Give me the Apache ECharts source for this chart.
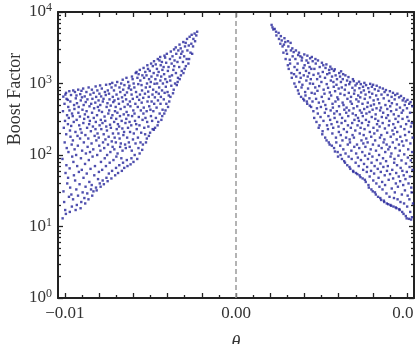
<!DOCTYPE html>
<html>
<head>
<meta charset="utf-8">
<script src="https://cdn.jsdelivr.net/npm/echarts@6.0.0/dist/echarts.min.js"></script>
<style>
  html, body { margin: 0; padding: 0; background: #fff; }
  #chart { width: 415px; height: 344px; }
</style>
</head>
<body>
<div id="chart"></div>
<script>
// theta (rad) vs boost factor
var leftPoints = [
  [-0.01013,13],[-0.01008,31],[-0.01014,88],[-0.01006,240],[-0.01011,410],[-0.01009,655],
  [-0.00998,17],[-0.01004,22],[-0.00996,56],[-0.01001,150],[-0.00999,300],[-0.01002,520],[-0.00997,700],
  [-0.00994,15],[-0.00986,40],[-0.00991,72],[-0.00989,125],[-0.00992,195],[-0.00987,360],[-0.00990,610],[-0.00993,740],
  [-0.00976,26],[-0.00981,48],[-0.00979,110],[-0.00982,270],[-0.00977,330],[-0.00980,470],[-0.00983,590],
  [-0.00971,16],[-0.00969,35],[-0.00972,65],[-0.00967,180],[-0.00970,220],[-0.00973,420],[-0.00968,560],[-0.00974,780],
  [-0.00959,19],[-0.00962,28],[-0.00957,95],[-0.00960,140],[-0.00963,255],[-0.00958,380],[-0.00964,690],
  [-0.00952,24],[-0.00947,52],[-0.00950,80],[-0.00953,160],[-0.00948,290],[-0.00954,350],[-0.00946,500],[-0.00951,800],
  [-0.00937,17],[-0.00940,44],[-0.00943,120],[-0.00938,210],[-0.00944,440],[-0.00936,620],[-0.00941,760],
  [-0.00930,20],[-0.00933,33],[-0.00928,70],[-0.00934,100],[-0.00926,185],[-0.00931,310],[-0.00929,530],[-0.00932,680],
  [-0.00923,27],[-0.00918,58],[-0.00924,135],[-0.00916,260],[-0.00921,390],[-0.00919,470],[-0.00922,820],
  [-0.00908,18],[-0.00914,39],[-0.00906,90],[-0.00911,170],[-0.00909,230],[-0.00912,345],[-0.00907,580],[-0.00910,710],
  [-0.00904,22],[-0.00896,30],[-0.00901,62],[-0.00899,115],[-0.00902,205],[-0.00897,430],[-0.00900,640],[-0.00903,790],
  [-0.00886,25],[-0.00891,48],[-0.00889,150],[-0.00892,280],[-0.00887,320],[-0.00890,500],[-0.00893,850],
  [-0.00881,21],[-0.00879,36],[-0.00882,75],[-0.00877,105],[-0.00880,190],[-0.00883,370],[-0.00878,550],[-0.00884,660],
  [-0.00869,29],[-0.00872,55],[-0.00867,130],[-0.00870,240],[-0.00873,410],[-0.00868,600],[-0.00874,760],
  [-0.00862,24],[-0.00857,42],[-0.00860,85],[-0.00863,170],[-0.00858,270],[-0.00864,340],[-0.00856,480],[-0.00861,880],
  [-0.00847,33],[-0.00850,64],[-0.00853,110],[-0.00848,215],[-0.00854,300],[-0.00846,520],[-0.00851,700],
  [-0.00840,27],[-0.00843,38],[-0.00838,95],[-0.00844,145],[-0.00836,250],[-0.00841,390],[-0.00839,610],[-0.00842,820],
  [-0.00833,31],[-0.00828,52],[-0.00834,120],[-0.00826,185],[-0.00831,330],[-0.00829,450],[-0.00832,740],
  [-0.00818,35],[-0.00824,70],[-0.00816,160],[-0.00821,230],[-0.00819,290],[-0.00822,540],[-0.00817,650],[-0.00820,910],
  [-0.00814,32],[-0.00806,46],[-0.00811,100],[-0.00809,200],[-0.00812,360],[-0.00807,470],[-0.00810,800],
  [-0.00796,40],[-0.00801,58],[-0.00799,135],[-0.00802,175],[-0.00797,260],[-0.00800,420],[-0.00803,580],[-0.00798,720],
  [-0.00791,36],[-0.00789,80],[-0.00792,115],[-0.00787,230],[-0.00790,310],[-0.00793,500],[-0.00788,660],[-0.00794,940],
  [-0.00779,44],[-0.00782,62],[-0.00777,150],[-0.00780,280],[-0.00783,400],[-0.00778,560],[-0.00784,850],
  [-0.00772,39],[-0.00767,90],[-0.00770,125],[-0.00773,195],[-0.00768,345],[-0.00774,610],[-0.00766,760],
  [-0.00757,48],[-0.00760,70],[-0.00763,165],[-0.00758,250],[-0.00764,300],[-0.00756,470],[-0.00761,690],[-0.00759,960],
  [-0.00750,43],[-0.00753,100],[-0.00748,140],[-0.00754,220],[-0.00746,380],[-0.00751,530],[-0.00749,800],
  [-0.00743,55],[-0.00738,78],[-0.00744,180],[-0.00736,265],[-0.00741,420],[-0.00739,600],[-0.00742,720],[-0.00737,980],
  [-0.00728,47],[-0.00734,110],[-0.00726,155],[-0.00731,240],[-0.00729,330],[-0.00732,490],[-0.00727,880],
  [-0.00724,60],[-0.00716,85],[-0.00721,130],[-0.00719,200],[-0.00722,360],[-0.00717,550],[-0.00720,650],[-0.00723,1020],
  [-0.00706,52],[-0.00711,120],[-0.00709,175],[-0.00712,290],[-0.00707,410],[-0.00710,580],[-0.00713,800],
  [-0.00701,66],[-0.00699,95],[-0.00702,150],[-0.00697,230],[-0.00700,320],[-0.00703,470],[-0.00698,700],[-0.00704,940],
  [-0.00689,56],[-0.00692,105],[-0.00687,200],[-0.00690,270],[-0.00693,390],[-0.00688,610],[-0.00694,1050],
  [-0.00682,72],[-0.00677,130],[-0.00680,170],[-0.00683,250],[-0.00678,350],[-0.00684,520],[-0.00676,760],[-0.00681,880],
  [-0.00667,60],[-0.00670,90],[-0.00673,145],[-0.00668,300],[-0.00674,440],[-0.00666,640],[-0.00671,1000],
  [-0.00660,78],[-0.00663,115],[-0.00658,190],[-0.00664,235],[-0.00656,370],[-0.00661,560],[-0.00659,820],[-0.00662,1130],
  [-0.00653,66],[-0.00648,140],[-0.00654,210],[-0.00646,280],[-0.00651,470],[-0.00649,690],[-0.00652,950],
  [-0.00638,85],[-0.00644,125],[-0.00636,175],[-0.00641,320],[-0.00639,400],[-0.00642,600],[-0.00637,750],[-0.00640,1200],
  [-0.00634,70],[-0.00626,150],[-0.00631,240],[-0.00629,360],[-0.00632,510],[-0.00627,860],[-0.00630,1050],
  [-0.00616,74],[-0.00621,130],[-0.00619,210],[-0.00622,290],[-0.00617,480],[-0.00620,560],[-0.00623,930],
  [-0.00611,90],[-0.00609,115],[-0.00612,260],[-0.00607,350],[-0.00610,700],[-0.00613,820],[-0.00608,1250],
  [-0.00599,80],[-0.00602,165],[-0.00597,200],[-0.00600,420],[-0.00603,610],[-0.00598,1000],[-0.00604,1150],
  [-0.00592,100],[-0.00587,145],[-0.00590,300],[-0.00593,380],[-0.00588,520],[-0.00594,880],[-0.00586,1400],
  [-0.00577,88],[-0.00580,230],[-0.00583,270],[-0.00578,650],[-0.00584,760],[-0.00576,1200],[-0.00581,1450],
  [-0.00570,125],[-0.00573,175],[-0.00568,340],[-0.00574,470],[-0.00566,590],[-0.00571,980],[-0.00569,1350],
  [-0.00563,105],[-0.00558,150],[-0.00564,260],[-0.00556,420],[-0.00561,700],[-0.00559,1100],[-0.00562,1550],
  [-0.00548,118],[-0.00554,205],[-0.00546,310],[-0.00551,540],[-0.00549,800],[-0.00552,950],[-0.00547,1300],
  [-0.00544,140],[-0.00536,240],[-0.00541,380],[-0.00539,460],[-0.00542,630],[-0.00537,1200],[-0.00540,1650],
  [-0.00526,150],[-0.00531,195],[-0.00529,330],[-0.00532,720],[-0.00527,880],[-0.00530,1450],
  [-0.00521,170],[-0.00519,290],[-0.00522,410],[-0.00517,560],[-0.00520,1000],[-0.00523,1300],[-0.00518,1800],
  [-0.00509,185],[-0.00512,250],[-0.00507,480],[-0.00510,650],[-0.00513,770],[-0.00508,1150],[-0.00514,1600],
  [-0.00502,205],[-0.00497,350],[-0.00500,430],[-0.00503,900],[-0.00498,1050],[-0.00504,1500],[-0.00496,1900],
  [-0.00487,230],[-0.00490,300],[-0.00493,560],[-0.00488,700],[-0.00494,1250],[-0.00486,1750],
  [-0.00480,225],[-0.00483,410],[-0.00478,520],[-0.00484,820],[-0.00476,990],[-0.00481,1400],[-0.00479,2050],
  [-0.00473,240],[-0.00468,330],[-0.00474,640],[-0.00466,760],[-0.00471,1150],[-0.00469,1850],
  [-0.00458,260],[-0.00464,460],[-0.00456,580],[-0.00461,1000],[-0.00459,1300],[-0.00462,1600],[-0.00457,2200],
  [-0.00454,290],[-0.00446,380],[-0.00451,720],[-0.00449,880],[-0.00452,1450],[-0.00447,2100],
  [-0.00436,310],[-0.00441,520],[-0.00439,650],[-0.00442,1100],[-0.00437,1250],[-0.00440,1800],[-0.00443,2350],
  [-0.00431,350],[-0.00429,430],[-0.00432,800],[-0.00427,1000],[-0.00430,1550],[-0.00433,2000],
  [-0.00419,380],[-0.00422,600],[-0.00417,740],[-0.00420,1350],[-0.00423,1700],[-0.00418,2450],
  [-0.00412,420],[-0.00407,520],[-0.00410,900],[-0.00413,1150],[-0.00408,1950],[-0.00414,2300],
  [-0.00397,470],[-0.00400,760],[-0.00403,1050],[-0.00398,1500],[-0.00404,2600],
  [-0.00390,560],[-0.00393,680],[-0.00388,1250],[-0.00394,1700],[-0.00386,2200],
  [-0.00383,650],[-0.00378,930],[-0.00384,1100],[-0.00376,1900],[-0.00381,2800],
  [-0.00368,730],[-0.00374,1300],[-0.00366,1550],[-0.00371,2400],
  [-0.00364,820],[-0.00356,1000],[-0.00361,1750],[-0.00359,2100],[-0.00362,3000],
  [-0.00346,950],[-0.00351,1400],[-0.00349,2600],[-0.00352,3200],
  [-0.00341,1050],[-0.00339,1200],[-0.00342,2000],[-0.00337,2900],
  [-0.00329,1150],[-0.00332,1700],[-0.00327,2300],[-0.00330,3500],
  [-0.00322,1300],[-0.00317,1500],[-0.00320,2600],[-0.00323,3100],
  [-0.00307,1400],[-0.00310,2000],[-0.00313,2800],[-0.00308,3800],
  [-0.00300,1600],[-0.00303,2400],[-0.00298,3300],
  [-0.00293,1750],[-0.00288,2200],[-0.00294,3700],[-0.00286,4200],
  [-0.00278,1900],[-0.00284,2900],[-0.00276,3400],
  [-0.00274,2200],[-0.00266,2700],[-0.00271,4500],
  [-0.00256,2600],[-0.00261,3600],[-0.00259,4800],
  [-0.00251,3300],[-0.00249,4200],
  [-0.00239,3900],[-0.00242,5000],
  [-0.00232,4700],[-0.00227,5300]
];

var rightPoints = [
  [0.00213,6100],[0.00208,6600],
  [0.00218,5700],
  [0.00234,5300],[0.00226,5800],
  [0.00236,4700],
  [0.00251,4200],[0.00249,5100],
  [0.00259,3600],[0.00262,4600],
  [0.00272,3300],[0.00267,4000],
  [0.00277,2700],[0.00280,3500],[0.00283,4300],
  [0.00290,2200],[0.00293,2900],[0.00288,3800],
  [0.00303,1800],[0.00298,2600],[0.00304,3900],
  [0.00308,1600],[0.00314,2150],[0.00306,3300],
  [0.00324,1400],[0.00316,1900],[0.00321,2900],[0.00319,3700],
  [0.00326,1200],[0.00331,2400],[0.00329,3100],
  [0.00341,1000],[0.00339,1350],[0.00342,1700],[0.00337,2750],
  [0.00349,900],[0.00352,1250],[0.00347,2200],[0.00350,2900],
  [0.00362,800],[0.00357,1550],[0.00360,1900],[0.00363,2500],
  [0.00367,720],[0.00370,1050],[0.00373,1400],[0.00368,2700],
  [0.00380,650],[0.00383,880],[0.00378,1200],[0.00384,2100],[0.00376,2400],
  [0.00393,610],[0.00388,960],[0.00394,1650],[0.00386,2300],
  [0.00398,580],[0.00404,760],[0.00396,1300],[0.00401,1800],[0.00399,2550],
  [0.00414,560],[0.00406,680],[0.00411,1100],[0.00409,1500],[0.00412,2100],
  [0.00416,520],[0.00421,850],[0.00419,1250],[0.00422,1950],[0.00417,2450],
  [0.00431,490],[0.00429,620],[0.00432,1000],[0.00427,1400],[0.00430,1700],[0.00433,2250],
  [0.00439,470],[0.00442,740],[0.00437,1150],[0.00440,1600],[0.00443,2350],
  [0.00452,410],[0.00447,560],[0.00450,990],[0.00453,1320],[0.00448,2050],
  [0.00457,330],[0.00460,720],[0.00463,880],[0.00458,1600],[0.00464,2200],
  [0.00470,290],[0.00473,450],[0.00468,610],[0.00474,1150],[0.00466,1900],
  [0.00483,240],[0.00478,380],[0.00484,540],[0.00476,790],[0.00481,1380],[0.00479,2100],
  [0.00488,260],[0.00494,340],[0.00486,920],[0.00491,1250],[0.00489,1700],
  [0.00504,195],[0.00496,470],[0.00501,650],[0.00499,1050],[0.00502,1950],
  [0.00506,215],[0.00511,300],[0.00509,560],[0.00512,820],[0.00507,1450],[0.00510,1800],
  [0.00521,175],[0.00519,390],[0.00522,500],[0.00517,720],[0.00520,1200],[0.00523,1650],
  [0.00529,160],[0.00532,260],[0.00527,440],[0.00530,980],[0.00533,1350],[0.00528,1850],
  [0.00542,150],[0.00537,230],[0.00540,350],[0.00543,610],[0.00538,870],[0.00544,1550],
  [0.00547,140],[0.00550,310],[0.00553,420],[0.00548,750],[0.00554,1100],[0.00546,1400],[0.00551,1720],
  [0.00560,135],[0.00563,200],[0.00558,270],[0.00564,520],[0.00556,680],[0.00561,1250],[0.00559,1600],
  [0.00573,125],[0.00568,240],[0.00574,380],[0.00566,460],[0.00571,900],[0.00569,1050],[0.00572,1500],
  [0.00578,112],[0.00584,175],[0.00576,330],[0.00581,560],[0.00579,780],[0.00582,1300],[0.00577,1580],
  [0.00594,110],[0.00586,150],[0.00591,290],[0.00589,410],[0.00592,640],[0.00587,960],[0.00590,1150],
  [0.00596,95],[0.00601,210],[0.00599,250],[0.00602,480],[0.00597,600],[0.00600,850],[0.00603,1400],
  [0.00611,100],[0.00609,135],[0.00612,190],[0.00607,370],[0.00610,720],[0.00613,1050],[0.00608,1250],[0.00614,1480],
  [0.00619,88],[0.00622,160],[0.00617,280],[0.00620,330],[0.00623,540],[0.00618,880],[0.00624,1150],
  [0.00632,82],[0.00627,120],[0.00630,230],[0.00633,430],[0.00628,500],[0.00634,690],[0.00626,1350],
  [0.00637,78],[0.00640,105],[0.00643,175],[0.00638,300],[0.00644,390],[0.00636,820],[0.00641,950],[0.00639,1300],
  [0.00650,72],[0.00653,140],[0.00648,210],[0.00654,260],[0.00646,460],[0.00651,610],[0.00649,1100],
  [0.00663,68],[0.00658,95],[0.00664,165],[0.00656,350],[0.00661,420],[0.00659,740],[0.00662,980],[0.00657,1230],
  [0.00668,64],[0.00674,115],[0.00666,150],[0.00671,240],[0.00669,560],[0.00672,650],[0.00667,1050],
  [0.00684,60],[0.00676,88],[0.00681,190],[0.00679,280],[0.00682,380],[0.00677,520],[0.00680,870],[0.00683,1150],
  [0.00686,58],[0.00691,130],[0.00689,175],[0.00692,310],[0.00687,450],[0.00690,720],[0.00693,800],[0.00688,1080],
  [0.00701,56],[0.00699,78],[0.00702,105],[0.00697,220],[0.00700,360],[0.00703,600],[0.00698,940],
  [0.00709,54],[0.00712,92],[0.00707,140],[0.00710,260],[0.00713,330],[0.00708,480],[0.00714,680],[0.00706,1000],
  [0.00722,52],[0.00717,70],[0.00720,125],[0.00723,200],[0.00718,300],[0.00724,420],[0.00716,560],[0.00721,860],[0.00719,1060],
  [0.00727,49],[0.00730,85],[0.00733,160],[0.00728,240],[0.00734,390],[0.00726,640],[0.00731,750],[0.00729,980],
  [0.00740,47],[0.00743,62],[0.00738,110],[0.00744,145],[0.00736,280],[0.00741,350],[0.00739,520],[0.00742,900],
  [0.00753,45],[0.00748,75],[0.00754,98],[0.00746,190],[0.00751,230],[0.00749,440],[0.00752,610],[0.00747,800],[0.00750,1020],
  [0.00758,42],[0.00764,58],[0.00756,130],[0.00761,170],[0.00759,310],[0.00762,380],[0.00757,700],[0.00760,950],
  [0.00774,38],[0.00766,68],[0.00771,88],[0.00769,150],[0.00772,260],[0.00767,470],[0.00770,540],[0.00773,860],
  [0.00776,35],[0.00781,50],[0.00779,104],[0.00782,210],[0.00777,290],[0.00780,400],[0.00783,640],[0.00778,760],[0.00784,990],
  [0.00791,33],[0.00789,60],[0.00792,78],[0.00787,120],[0.00790,180],[0.00793,340],[0.00788,490],[0.00794,900],
  [0.00799,31],[0.00802,44],[0.00797,95],[0.00800,140],[0.00803,240],[0.00798,430],[0.00804,580],[0.00796,720],[0.00801,960],
  [0.00812,30],[0.00807,55],[0.00810,70],[0.00813,160],[0.00808,200],[0.00814,320],[0.00806,510],[0.00811,830],
  [0.00817,28],[0.00820,40],[0.00823,85],[0.00818,115],[0.00824,270],[0.00816,370],[0.00821,450],[0.00819,680],[0.00822,930],
  [0.00830,26],[0.00833,48],[0.00828,64],[0.00834,135],[0.00826,220],[0.00831,300],[0.00829,600],[0.00832,790],
  [0.00843,25],[0.00838,36],[0.00844,76],[0.00836,100],[0.00841,175],[0.00839,250],[0.00842,420],[0.00837,530],[0.00840,880],
  [0.00848,23.5],[0.00854,42],[0.00846,58],[0.00851,125],[0.00849,190],[0.00852,340],[0.00847,460],[0.00850,700],
  [0.00864,23],[0.00856,33],[0.00861,68],[0.00859,90],[0.00862,150],[0.00857,280],[0.00860,390],[0.00863,620],[0.00858,850],
  [0.00866,22],[0.00871,38],[0.00869,52],[0.00872,110],[0.00867,165],[0.00870,235],[0.00873,500],[0.00868,760],
  [0.00881,21],[0.00879,29],[0.00882,60],[0.00877,82],[0.00880,140],[0.00883,205],[0.00878,330],[0.00884,440],[0.00876,810],
  [0.00889,20.5],[0.00892,45],[0.00887,70],[0.00890,120],[0.00893,260],[0.00888,360],[0.00894,570],[0.00886,690],
  [0.00902,20],[0.00897,26],[0.00900,54],[0.00903,95],[0.00898,130],[0.00904,180],[0.00896,300],[0.00901,480],[0.00899,780],
  [0.00907,19.5],[0.00910,34],[0.00913,62],[0.00908,105],[0.00914,220],[0.00906,410],[0.00911,530],[0.00909,650],
  [0.00920,19],[0.00923,25],[0.00918,47],[0.00924,78],[0.00916,150],[0.00921,195],[0.00919,270],[0.00922,370],[0.00917,740],
  [0.00933,18.5],[0.00928,30],[0.00934,40],[0.00926,88],[0.00931,125],[0.00929,240],[0.00932,320],[0.00927,600],[0.00930,690],
  [0.00938,18],[0.00944,24],[0.00936,56],[0.00941,72],[0.00939,165],[0.00942,210],[0.00937,430],[0.00940,510],[0.00943,720],
  [0.00954,17.5],[0.00946,36],[0.00951,50],[0.00949,98],[0.00952,140],[0.00947,290],[0.00950,350],[0.00953,640],
  [0.00956,17],[0.00961,22],[0.00959,43],[0.00962,66],[0.00957,115],[0.00960,180],[0.00963,250],[0.00958,460],[0.00964,670],
  [0.00971,16],[0.00969,28],[0.00972,60],[0.00967,84],[0.00970,155],[0.00973,320],[0.00968,390],[0.00974,580],
  [0.00979,15],[0.00982,21],[0.00977,38],[0.00980,52],[0.00983,102],[0.00978,135],[0.00984,230],[0.00976,420],[0.00981,620],
  [0.00992,14],[0.00987,32],[0.00990,46],[0.00993,76],[0.00988,190],[0.00994,270],[0.00986,500],[0.00991,560],
  [0.00997,13],[0.01000,19],[0.01003,27],[0.00998,58],[0.01004,92],[0.00996,160],[0.01001,340],[0.00999,450],[0.01002,590],
  [0.01010,12.8],[0.01013,24],[0.01008,40],[0.01014,68],[0.01006,120],[0.01011,210],[0.01009,300],[0.01012,520],
  [0.01023,12.5],[0.01018,16],[0.01024,35],[0.01016,50],[0.01021,84],[0.01019,145],[0.01022,250],[0.01017,390],[0.01020,550],
  [0.01028,13.5],[0.01034,21],[0.01026,30],[0.01031,62],[0.01029,110],[0.01032,175],[0.01027,280],[0.01030,480]
];

var xMajorTicks = [-0.01, -0.008, -0.006, -0.004, -0.002, 0, 0.002, 0.004, 0.006, 0.008, 0.01];
var xMinorTicks = [-0.009, -0.007, -0.005, -0.003, -0.001, 0.001, 0.003, 0.005, 0.007, 0.009];
var xLabelTicks = [-0.01, 0, 0.01];
var yMajorTicks = [1, 10, 100, 1000, 10000];
var yMinorTicks = [
  2, 3, 4, 5, 6, 7, 8, 9,
  20, 30, 40, 50, 60, 70, 80, 90,
  200, 300, 400, 500, 600, 700, 800, 900,
  2000, 3000, 4000, 5000, 6000, 7000, 8000, 9000
];

var FONT = '"Liberation Serif", "DejaVu Serif", serif';
var INK = '#222';
var DOT = '#23239a';

function x_axis(grid, pos, ticks, len, withLabels) {
  return {
    type: 'value', gridIndex: grid, position: pos,
    min: -0.0104, max: 0.0104,
    splitLine: { show: false },
    axisLine: { show: grid === 0, onZero: false, lineStyle: { color: INK, width: 2 } },
    axisTick: { show: true, inside: true, length: len, customValues: ticks, lineStyle: { color: INK, width: 1.3 } },
    axisLabel: withLabels ? {
      show: true, customValues: xLabelTicks, margin: 7,
      color: '#333', fontFamily: FONT, fontSize: 17,
      formatter: function (v) {
        return (v < 0 ? '\u2212' : '') + Math.abs(v).toFixed(2);
      }
    } : { show: false }
  };
}

function y_axis(grid, pos, ticks, len, withLabels) {
  return {
    type: 'log', logBase: 10, gridIndex: grid, position: pos,
    min: 1, max: 10000,
    splitLine: { show: false },
    axisLine: { show: grid === 0, onZero: false, lineStyle: { color: INK, width: 2 } },
    axisTick: { show: true, inside: true, length: len, customValues: ticks, lineStyle: { color: INK, width: 1.3 } },
    axisLabel: withLabels ? {
      show: true, customValues: yMajorTicks, margin: 6,
      color: '#333', fontFamily: FONT, fontSize: 17, lineHeight: 20,
      formatter: function (v) {
        return '10{sup|' + Math.round(Math.log(v) / Math.LN10) + '}';
      },
      rich: {
        sup: { fontFamily: FONT, fontSize: 12, color: '#333', verticalAlign: 'top', lineHeight: 12, padding: [0, 0, 8, 0] }
      }
    } : { show: false }
  };
}

function cal_option() {
  var xs = [
    x_axis(0, 'bottom', xMajorTicks, 5, true),
    x_axis(0, 'top', xMajorTicks, 5, false),
    x_axis(1, 'bottom', xMinorTicks, 3, false),
    x_axis(1, 'top', xMinorTicks, 3, false)
  ];
  xs[0].name = '\u03b8';
  xs[0].nameLocation = 'middle';
  xs[0].nameGap = 36;
  xs[0].nameTextStyle = { fontFamily: FONT, fontSize: 18, fontStyle: 'italic', color: '#333' };

  var gridBox = { left: 58, right: 1, top: 12, bottom: 46, containLabel: false, outerBoundsMode: 'none' };

  return {
    animation: false,
    backgroundColor: '#fff',
    grid: [gridBox, Object.assign({}, gridBox)],
    xAxis: xs,
    yAxis: [
      y_axis(0, 'left', yMajorTicks, 5, true),
      y_axis(0, 'right', yMajorTicks, 5, false),
      y_axis(1, 'left', yMinorTicks, 3, false),
      y_axis(1, 'right', yMinorTicks, 3, false)
    ],
    graphic: [{
      type: 'text', x: 15, y: 99, rotation: Math.PI / 2,
      style: {
        text: 'Boost Factor', fill: '#333',
        font: '18px "Liberation Serif", "DejaVu Serif", serif',
        align: 'center', verticalAlign: 'middle'
      }
    }],
    series: [
      {
        type: 'scatter', xAxisIndex: 0, yAxisIndex: 0,
        symbol: 'rect', symbolSize: 2.4,
        itemStyle: { color: DOT },
        data: leftPoints,
        markLine: {
          silent: true, symbol: ['none', 'none'],
          label: { show: false },
          lineStyle: { color: '#9a9a9a', type: [5, 3], width: 1.5 },
          data: [{ xAxis: 0 }]
        }
      },
      {
        type: 'scatter', xAxisIndex: 0, yAxisIndex: 0,
        symbol: 'rect', symbolSize: 2.4,
        itemStyle: { color: DOT },
        data: rightPoints
      }
    ]
  };
}

function draw_charts() {
  var myChart = echarts.init(document.getElementById('chart'), null, { renderer: 'canvas' });
  myChart.setOption(cal_option());
}

draw_charts();
</script>
</body>
</html>
